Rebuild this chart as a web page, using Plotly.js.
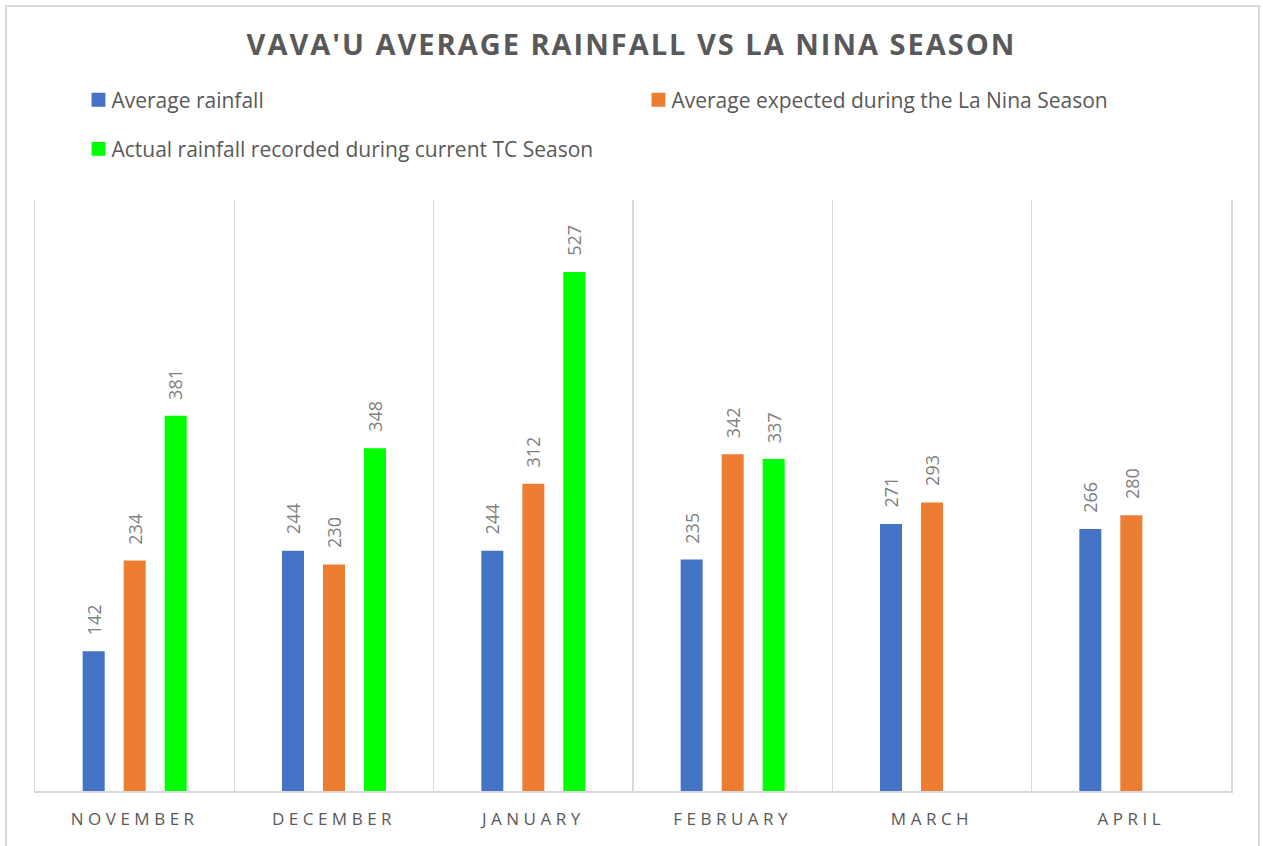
<!DOCTYPE html>
<html>
<head>
<meta charset="utf-8">
<script src="https://cdn.plot.ly/plotly-3.0.1.min.js"></script>
<style>
  html, body { margin: 0; padding: 0; background: #fff; overflow: hidden; }
  #chart { position: absolute; left: 0; top: 0; width: 1263px; height: 846px; }
  #frame { position: absolute; left: 5px; top: 5px; width: 1251px; height: 900px;
           border: 2px solid #d9d9d9; pointer-events: none; }
  #chart .gtitle { letter-spacing: 2px; }
  #chart .xtick text { letter-spacing: 4.5px; }
  #chart .legendpoints path { transform: translateX(27px) scale(1.15); }
</style>
</head>
<body>
<div id="chart"></div>
<div id="frame"></div>
<script>
const months = ["NOVEMBER", "DECEMBER", "JANUARY", "FEBRUARY", "MARCH", "APRIL"];
const averageRainfall = [142, 244, 244, 235, 271, 266];
const laNinaExpected = [234, 230, 312, 342, 293, 280];
const actualRainfall = [381, 348, 527, 337, null, null];

const seriesNames = ["Average rainfall", "Average expected during the La Nina Season", "Actual rainfall recorded during current TC Season"];
const seriesColors = ["#4472C4", "#ED7D31", "#00FF00"];
const seriesValues = [averageRainfall, laNinaExpected, actualRainfall];
const seriesLegends = ["legend", "legend", "legend2"];
const labelShift = [-41, 0, 41];

const traces = seriesValues.map((vals, i) => ({
  type: "bar",
  name: seriesNames[i],
  x: months,
  y: vals,
  marker: { color: seriesColors[i] },
  legend: seriesLegends[i],
  hoverinfo: "x+y+name"
}));

const annotations = [];
seriesValues.forEach((vals, i) => {
  vals.forEach((v, j) => {
    if (v === null) return;
    annotations.push({
      x: months[j], y: v, xref: "x", yref: "y",
      text: String(v), showarrow: false, textangle: -90,
      xanchor: "center", yanchor: "bottom",
      xshift: labelShift[i], yshift: 14,
      font: { family: "Open Sans", size: 18, color: "#808080" }
    });
  });
});

const layout = {
  width: 1263, height: 846,
  margin: { l: 35, r: 32, t: 200, b: 55, pad: 0 },
  paper_bgcolor: "#ffffff", plot_bgcolor: "#ffffff",
  font: { family: "Open Sans", color: "#595959" },
  title: {
    text: "<b>VAVA'U AVERAGE RAINFALL VS LA NINA SEASON</b>",
    font: { family: "Open Sans", size: 29, color: "#595959" },
    x: 0.5, xanchor: "center", y: 1 - 45 / 846, yanchor: "middle"
  },
  barmode: "group",
  bargap: 0.383,
  bargroupgap: 0.463,
  showlegend: true,
  legend: {
    orientation: "h", x: 0.0305, xanchor: "left", y: 1.169, yanchor: "middle",
    font: { family: "Open Sans", size: 21, color: "#595959" },
    entrywidth: 515, entrywidthmode: "pixels", bgcolor: "rgba(0,0,0,0)"
  },
  legend2: {
    orientation: "h", x: 0.0305, xanchor: "left", y: 1.086, yanchor: "middle",
    font: { family: "Open Sans", size: 21, color: "#595959" },
    bgcolor: "rgba(0,0,0,0)"
  },
  xaxis: {
    type: "category",
    tickson: "boundaries",
    showgrid: true, gridcolor: "#d9d9d9", gridwidth: 1.5,
    showline: true, linecolor: "#d9d9d9", linewidth: 1.5,
    ticks: "", ticklabelstandoff: 12,
    tickfont: { family: "Open Sans", size: 17, color: "#595959" },
    fixedrange: true
  },
  yaxis: {
    range: [0, 600],
    showgrid: false, zeroline: false,
    showline: true, mirror: true, linecolor: "#d9d9d9", linewidth: 1.5,
    showticklabels: false, ticks: "",
    fixedrange: true
  },
  annotations: annotations
};

Plotly.newPlot("chart", traces, layout, { displayModeBar: false, staticPlot: true });
</script>
</body>
</html>
